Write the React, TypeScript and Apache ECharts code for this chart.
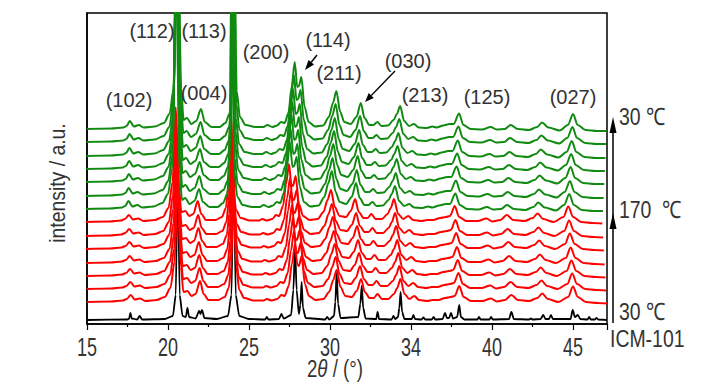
import React, { useEffect, useRef } from "react";
import * as echarts from "echarts";

// ---------- data ----------
const xTickValues = [15, 20, 25, 30, 35, 40, 45];
const xTickLabels = ["15", "20", "25", "30", "34", "40", "45"];

// [2θ, intensity above the trace's own baseline]
const blackProfile: [number, number][] = [
  [15, 0], [17.5, 0.5], [17.6, 1.5], [17.68, 7], [17.76, 1.5], [18.1, 0.5], [18.25, 4], [18.4, 0.5],
  [19.8, 1], [20.3, 4], [20.48, 25], [20.6, 160], [20.72, 25], [20.9, 4], [21.1, 3], [21.2, 12], [21.3, 3],
  [21.7, 1.5], [21.93, 9], [22.0, 6], [22.1, 10], [22.25, 2], [23.0, 1], [23.7, 4], [23.92, 25], [24.05, 170],
  [24.18, 25], [24.4, 4], [25.0, 1], [26.0, 0.5], [26.1, 3], [26.2, 0.5], [26.85, 1], [27.0, 6], [27.15, 1.5],
  [27.6, 5], [27.74, 30], [27.84, 75], [27.94, 30], [28.08, 6], [28.17, 15], [28.25, 38], [28.33, 12], [28.5, 2],
  [29.7, 0.5], [29.83, 3], [29.95, 0.5], [30.25, 4], [30.33, 18], [30.41, 47], [30.5, 16], [30.65, 2],
  [31.75, 3], [31.87, 16], [31.96, 34], [32.05, 12], [32.2, 1.5], [32.85, 1], [32.94, 8], [33.03, 1],
  [33.8, 0.5], [33.92, 4], [34.02, 1], [34.2, 3], [34.28, 12], [34.36, 28], [34.45, 8], [34.6, 1],
  [35.05, 1], [35.15, 5], [35.25, 1], [35.65, 0.5], [35.77, 2.5], [35.88, 0.5], [36.28, 0.5], [36.4, 3], [36.5, 0.5],
  [36.95, 1], [37.1, 7], [37.22, 2], [37.35, 2], [37.47, 7], [37.6, 1.5], [37.85, 3], [37.98, 15], [38.08, 3],
  [38.3, 0.5], [39.1, 0.5], [39.2, 3], [39.3, 0.5], [39.85, 0.5], [39.94, 3], [40.05, 0.5], [41.05, 1], [41.2, 8],
  [41.35, 1], [42.3, 0.5], [42.4, 1.5], [42.5, 0.5], [43.0, 1], [43.17, 5], [43.3, 1], [43.52, 1], [43.64, 5], [43.76, 1],
  [44.85, 1], [44.98, 10], [45.12, 3], [45.3, 5], [45.45, 1], [45.9, 0.5], [46.0, 3], [46.1, 0.5],
  [46.35, 0.5], [46.45, 2], [46.55, 0.5], [47.1, 0],
];

const redProfile: [number, number][] = [
  [15, 0], [16.5, 0.5], [17.2, 1.5], [17.45, 3], [17.7, 7], [17.95, 2.5], [18.27, 3.5], [18.6, 1],
  [19.3, 2], [19.8, 5], [20.15, 14], [20.4, 40], [20.6, 115], [20.8, 35], [20.95, 10], [21.2, 11], [21.45, 6],
  [21.7, 8], [21.98, 21], [22.2, 8], [22.5, 2], [23.1, 2], [23.5, 5], [23.75, 14], [23.9, 35], [24.05, 118],
  [24.22, 35], [24.4, 12], [24.7, 4], [25.3, 1.5], [25.9, 1.5], [26.1, 3], [26.4, 1.5], [26.75, 3], [27.0, 7],
  [27.2, 6], [27.45, 16], [27.65, 38], [27.84, 58], [27.98, 38], [28.08, 36], [28.25, 46], [28.45, 18],
  [28.7, 6], [29.1, 2], [29.6, 3], [29.95, 10], [30.2, 22], [30.41, 32], [30.65, 15], [30.95, 6], [31.35, 5],
  [31.65, 11], [31.92, 23], [32.15, 10], [32.45, 4], [32.7, 4], [32.94, 8], [33.2, 3], [33.6, 3], [33.95, 8],
  [34.15, 14], [34.35, 23], [34.6, 8], [34.9, 3], [35.2, 6], [35.5, 2], [36.0, 1], [36.33, 2], [36.7, 2],
  [37.1, 4], [37.45, 5], [37.7, 6], [37.98, 16], [38.25, 5], [38.7, 1], [39.4, 1], [39.94, 3.5], [40.3, 0.5],
  [40.8, 2], [41.2, 7], [41.6, 2], [42.3, 1], [42.8, 4], [43.1, 8.5], [43.45, 3], [44.1, 0], [44.7, 5],
  [45.0, 15.5], [45.3, 5], [45.8, 0], [46.5, -1], [47.1, -1.5],
];

const greenProfile: [number, number][] = [
  [15, 0], [16.5, 0.5], [17.25, 1.5], [17.45, 3], [17.65, 8], [17.9, 2.5], [18.2, 4], [18.5, 1.5],
  [19.2, 2.5], [19.75, 6], [20.1, 15], [20.35, 40], [20.6, 240], [20.82, 40], [20.97, 9], [21.17, 11],
  [21.45, 5], [21.75, 8], [22.04, 20], [22.28, 7], [22.7, 2], [23.2, 2], [23.55, 6], [23.8, 15], [23.95, 40],
  [24.07, 250], [24.25, 38], [24.45, 12], [24.8, 4], [25.4, 2], [25.9, 2], [26.15, 4], [26.45, 2], [26.75, 3.5],
  [27.0, 7], [27.22, 6], [27.45, 16], [27.65, 42], [27.84, 67], [28.0, 42], [28.1, 43], [28.25, 52],
  [28.45, 22], [28.7, 7], [29.1, 2.5], [29.6, 3.5], [29.95, 12], [30.2, 26], [30.41, 38], [30.65, 17],
  [30.9, 7], [31.3, 5], [31.65, 12], [31.92, 26], [32.15, 11], [32.45, 4], [32.7, 4], [32.94, 7], [33.2, 3],
  [33.6, 3.5], [33.95, 9], [34.15, 15], [34.35, 23], [34.6, 8], [34.9, 3], [35.2, 5], [35.5, 1.5], [36.0, 1],
  [36.33, 2.5], [36.6, 1.5], [37.0, 3.5], [37.4, 5], [37.65, 5], [37.98, 15.5], [38.25, 4], [38.7, 0],
  [39.4, -0.5], [39.94, 2], [40.3, -0.5], [40.8, 0], [41.17, 4], [41.6, 0], [42.3, -1], [42.8, 2], [43.1, 6.5],
  [43.5, 1.5], [44.2, -1.5], [44.7, 4], [45.02, 15], [45.3, 4], [45.8, -1], [46.5, -2], [47.1, -2],
];

// vertical stacking offsets (bottom to top)
const blackOffset = 4;
const redOffsets = [22, 35, 48, 61, 75, 88, 102];
const greenOffsets = [115, 128, 142, 155, 168, 182, 195];
// peak shift at 170 ℃, read at the main reflections
const shiftAt2Theta = [15, 20.6, 24.05, 27.84, 30.41, 34.35, 37.98, 45.0, 47.1];
const shiftAt170C = [-0.1, -0.12, -0.18, -0.37, -0.35, -0.4, -0.28, -0.29, -0.29];
// fraction of that shift carried by each trace (bottom to top)
const redShiftFraction = [0, 0.17, 0.33, 0.5, 0.67, 0.83, 1.0];
const greenShiftFraction = [0.85, 0.72, 0.58, 0.45, 0.32, 0.18, 0.05];

const peakLabels = ["(102)", "(112)", "(113)", "(004)", "(200)", "(114)", "(211)", "(030)", "(213)", "(125)", "(027)"];
const tempLabels = ["30 ℃", "170  ℃", "30 ℃", "ICM-101"];

// ---------- layout ----------
const peakLabelPos: [number, number][] = [
  [129, 100], [152, 31], [204, 31], [204, 93], [266, 52], [328, 40], [339, 73], [408, 61], [425, 95], [487, 97], [573, 97],
];
const tempLabelPos: [number, number][] = [[619, 117], [619, 210], [619, 312], [610, 339]];

const FONT = "'Liberation Sans', Arial, sans-serif";
const TXT = "#333";

function shiftAt(x: number) {
  for (let i = 0; i < shiftAt2Theta.length - 1; i++) {
    const a = shiftAt2Theta[i], b = shiftAt2Theta[i + 1];
    if (x >= a && x <= b) {
      const t = (x - a) / (b - a);
      return shiftAt170C[i] * (1 - t) + shiftAt170C[i + 1] * t;
    }
  }
  return shiftAt170C[shiftAt170C.length - 1];
}

function trace(profile: [number, number][], offset: number, frac: number) {
  return profile.map(([x, y]) => [x + frac * shiftAt(x), y + offset]);
}

function arrowHead(tip: [number, number], from: [number, number], len: number, half: number) {
  const dx = tip[0] - from[0];
  const dy = tip[1] - from[1];
  const d = Math.hypot(dx, dy);
  const ux = dx / d, uy = dy / d;
  const bx = tip[0] - ux * len, by = tip[1] - uy * len;
  return {
    base: [bx, by] as [number, number],
    points: [tip, [bx - uy * half, by + ux * half], [bx + uy * half, by - ux * half]],
  };
}

export default function App() {
  const ref = useRef<HTMLDivElement>(null);
  useEffect(() => {
    if (!ref.current) return;
    const chart = echarts.init(ref.current, undefined, { renderer: "svg" });

    const series: any[] = [];
    series.push({
      type: "line", data: trace(blackProfile, blackOffset, 0), showSymbol: false, symbol: "none",
      lineStyle: { color: "#000", width: 1.8 }, smooth: 0.25, smoothMonotone: "x", z: 2, silent: true,
    });
    redOffsets.forEach((o, i) => {
      series.push({
        type: "line", data: trace(redProfile, o, redShiftFraction[i]), showSymbol: false, symbol: "none",
        lineStyle: { color: "#ff0000", width: 2 }, smooth: 0.3, smoothMonotone: "x", z: 3, silent: true,
      });
    });
    greenOffsets.forEach((o, i) => {
      series.push({
        type: "line", data: trace(greenProfile, o, greenShiftFraction[i]), showSymbol: false, symbol: "none",
        lineStyle: { color: "#118a11", width: 2 }, smooth: 0.3, smoothMonotone: "x", z: 4, silent: true,
      });
    });

    chart.setOption({
      animation: false,
      grid: { left: 87, right: 121, top: 13, bottom: 66, show: true, borderColor: "#000", borderWidth: 1.5, backgroundColor: "transparent" },
      xAxis: {
        type: "value", min: 15, max: 47.1, interval: 5,
        axisLine: { show: true, lineStyle: { color: "#000", width: 1.5 } },
        axisTick: { show: true, inside: false, length: 6, lineStyle: { color: "#000", width: 1.2 } },
        minorTick: { show: true, splitNumber: 2, length: 3, lineStyle: { color: "#000", width: 1.2 } },
        splitLine: { show: false },
        axisLabel: { show: false },
      },
      yAxis: {
        type: "value", min: 0, max: 311,
        axisLine: { show: true, lineStyle: { color: "#000", width: 1.5 } },
        axisTick: { show: false }, axisLabel: { show: false }, splitLine: { show: false },
      },
      series,
    });

    const graphics: any[] = [];
    // x tick labels, placed through the x axis scale (condensed face as in the reference)
    xTickValues.forEach((v, i) => {
      const px = chart.convertToPixel({ xAxisIndex: 0 }, v) as number;
      graphics.push({
        type: "text", x: px, y: 347, z: 100, scaleX: 0.72,
        style: { text: xTickLabels[i], fill: TXT, font: `25px ${FONT}`, align: "center", verticalAlign: "middle" },
      });
    });
    peakLabels.forEach((t, i) => {
      graphics.push({
        type: "text", x: peakLabelPos[i][0], y: peakLabelPos[i][1], z: 100,
        style: { text: t, fill: TXT, font: `20px ${FONT}`, align: "center", verticalAlign: "middle" },
      });
    });
    tempLabels.forEach((t, i) => {
      graphics.push({
        type: "text", x: tempLabelPos[i][0], y: tempLabelPos[i][1], z: 100, scaleX: 0.81,
        style: { text: t, fill: TXT, font: `24px ${FONT}`, align: "left", verticalAlign: "middle" },
      });
    });
    // (114) and (030) arrows
    const a1 = arrowHead([305, 70], [317, 55], 10, 3.5);
    const a2 = arrowHead([365, 102], [395, 71], 9, 3.5);
    graphics.push(
      { type: "line", shape: { x1: 317, y1: 55, x2: a1.base[0], y2: a1.base[1] }, style: { stroke: "#000", lineWidth: 1.5 }, z: 100 },
      { type: "polygon", shape: { points: a1.points }, style: { fill: "#000" }, z: 100 },
      { type: "line", shape: { x1: 395, y1: 71, x2: a2.base[0], y2: a2.base[1] }, style: { stroke: "#000", lineWidth: 1.3 }, z: 100 },
      { type: "polygon", shape: { points: a2.points }, style: { fill: "#000" }, z: 100 },
    );
    // temperature arrow on the right
    graphics.push(
      { type: "line", shape: { x1: 613, y1: 323, x2: 613, y2: 128 }, style: { stroke: "#000", lineWidth: 1.5 }, z: 100 },
      { type: "polygon", shape: { points: [[613, 117], [609.5, 133], [616.5, 133]] }, style: { fill: "#000" }, z: 100 },
      { type: "polygon", shape: { points: [[613, 213], [609.5, 229], [616.5, 229]] }, style: { fill: "#000" }, z: 100 },
    );
    // axis titles
    graphics.push(
      {
        type: "text", x: 335, y: 369, z: 100, scaleX: 0.78,
        style: {
          text: "{n|2}{i|θ}{n| / (°)}", align: "center", verticalAlign: "middle", fill: TXT,
          rich: {
            n: { font: `24px ${FONT}`, fill: TXT },
            i: { font: `italic 24px ${FONT}`, fill: TXT },
          },
        },
      },
      {
        type: "text", x: 57, y: 183, rotation: Math.PI / 2, z: 100, scaleX: 0.88,
        style: { text: "intensity / a.u.", fill: TXT, font: `22px ${FONT}`, align: "center", verticalAlign: "middle" },
      },
    );
    chart.setOption({ graphic: graphics });
    return () => chart.dispose();
  }, []);
  return <div ref={ref} style={{ position: "absolute", left: 0, top: 0, width: 728, height: 390 }} />;
}
